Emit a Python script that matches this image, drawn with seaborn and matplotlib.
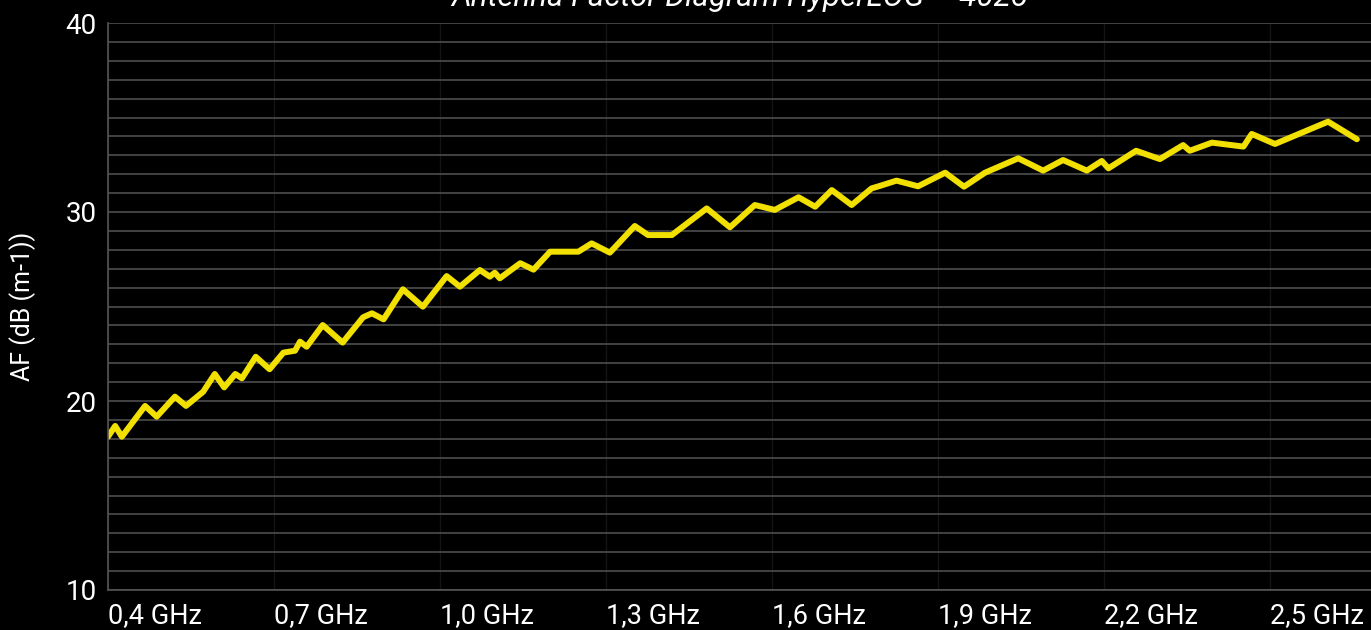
import numpy as np
import pandas as pd
import seaborn as sns
import matplotlib.pyplot as plt
from matplotlib.ticker import MultipleLocator, FixedLocator

# Antenna factor (frequency in GHz, AF in dB(m-1))
freq_ghz = [0.400, 0.413, 0.425, 0.467, 0.488, 0.521, 0.541, 0.572, 0.593, 0.610,
            0.630, 0.642, 0.667, 0.692, 0.717, 0.738, 0.747, 0.759, 0.788, 0.824,
            0.861, 0.877, 0.898, 0.933, 0.969, 1.012, 1.036, 1.072, 1.090, 1.099,
            1.108, 1.145, 1.169, 1.199, 1.214, 1.250, 1.274, 1.307, 1.352, 1.376,
            1.419, 1.482, 1.524, 1.569, 1.605, 1.648, 1.678, 1.708, 1.744, 1.780,
            1.795, 1.825, 1.864, 1.913, 1.947, 1.985, 2.045, 2.090, 2.126, 2.169,
            2.196, 2.208, 2.258, 2.301, 2.343, 2.355, 2.395, 2.452, 2.467, 2.509,
            2.605, 2.657]
af_db = [18.11, 18.68, 18.11, 19.74, 19.17, 20.23, 19.74, 20.49, 21.43, 20.72,
         21.43, 21.20, 22.34, 21.68, 22.56, 22.66, 23.14, 22.87, 24.02, 23.09,
         24.43, 24.64, 24.32, 25.91, 24.99, 26.61, 26.05, 26.93, 26.58, 26.79,
         26.49, 27.29, 26.95, 27.90, 27.90, 27.90, 28.34, 27.85, 29.26, 28.78,
         28.78, 30.19, 29.19, 30.37, 30.11, 30.78, 30.28, 31.16, 30.37, 31.25,
         31.38, 31.66, 31.36, 32.08, 31.34, 32.08, 32.84, 32.19, 32.75, 32.19,
         32.70, 32.31, 33.24, 32.80, 33.54, 33.24, 33.67, 33.46, 34.13, 33.60,
         34.78, 33.85]

tick_ghz = [0.4, 0.7, 1.0, 1.3, 1.6, 1.9, 2.2, 2.5]
tick_labels = ['0,4 GHz', '0,7 GHz', '1,0 GHz', '1,3 GHz', '1,6 GHz', '1,9 GHz', '2,2 GHz', '2,5 GHz']

df = pd.DataFrame({'freq': freq_ghz, 'af': af_db})

sns.set_style('dark')
plt.rcParams['font.family'] = ['Roboto', 'DejaVu Sans']

fig = plt.figure(figsize=(13.71, 6.30), dpi=100, facecolor='black')
ax = fig.add_axes([108 / 1371, 40 / 630, 1 - 108 / 1371, 567 / 630])
ax.set_facecolor('black')

sns.lineplot(data=df, x='freq', y='af', ax=ax, color='#f2e000', linewidth=4.3,
             solid_joinstyle='round', solid_capstyle='round')

ax.set_xlim(0.4, 0.4 + 1263 / 553.33)
ax.set_ylim(10, 40)

ax.yaxis.set_major_locator(FixedLocator([10, 20, 30, 40]))
ax.yaxis.set_minor_locator(MultipleLocator(1))
ax.set_xticks(tick_ghz)
ax.set_xticklabels(tick_labels, ha='left')

ax.grid(False)
ax.grid(axis='y', which='both', color='#4d4d4d', linewidth=1.2)
ax.grid(axis='x', which='major', color='#141414', linewidth=1)
ax.set_axisbelow(True)

ax.tick_params(axis='both', which='both', length=0, colors='white')
ax.tick_params(axis='y', labelsize=20, pad=8)
ax.tick_params(axis='x', labelsize=19.5, pad=8.5)

for side in ['top', 'right']:
    ax.spines[side].set_visible(False)
for side in ['left', 'bottom']:
    ax.spines[side].set_visible(True)
    ax.spines[side].set_color('#555555')
    ax.spines[side].set_linewidth(1.2)

ax.set_xlabel('')
ax.set_ylabel('AF (dB (m-1))', color='white', fontsize=18)
ax.yaxis.set_label_coords(-0.057, 0.5)

ax.set_title('Antenna Factor Diagram HyperLOG – 4025', color='white', fontsize=22.5,
             style='italic', pad=12)

fig.savefig('out.png', dpi=100, facecolor='black')
